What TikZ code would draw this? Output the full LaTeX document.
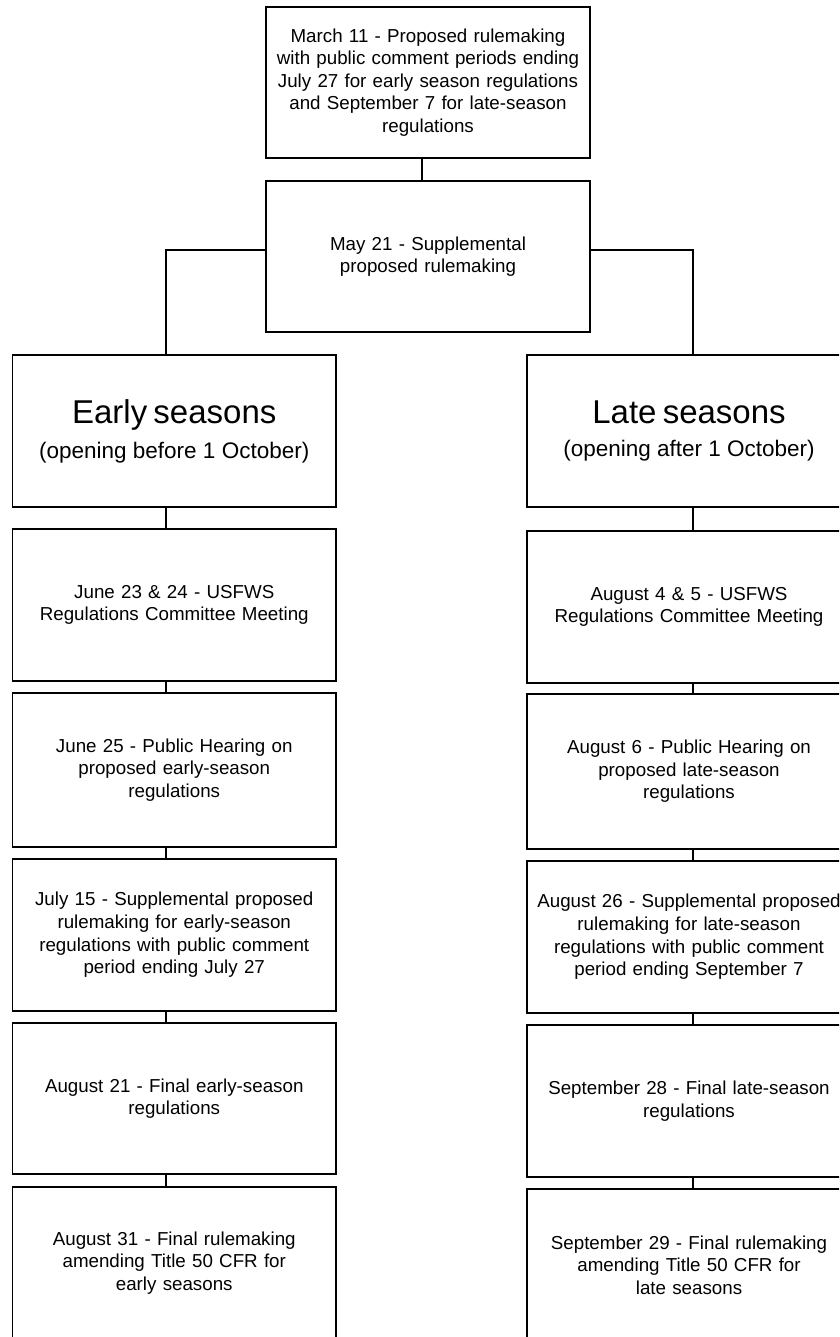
\documentclass[tikz,border=0pt]{standalone}
\usepackage{fontspec}
\setmainfont{Liberation Sans}
\begin{document}
\begin{tikzpicture}[x=1pt,y=-1pt,
  box/.style={draw, line width=1.8pt, rectangle, inner sep=0pt, outer sep=0pt,
    minimum width=323.5pt, minimum height=152pt, text width=318pt, align=center,
    font=\fontsize{18.75}{22.6}\selectfont},
  rbox/.style={box, minimum width=324pt},
  link/.style={line width=1.8pt}]
\useasboundingbox (0,0) rectangle (839,1337);
\begin{scope}
\clip (0,0) rectangle (839,1337);
% top boxes
\node[box, minimum width=324pt, minimum height=151pt] (top) at (428,82.5)
  {March 11 - Proposed rulemaking\\with public comment periods ending\\July 27 for early season regulations\\and September 7 for late-season\\regulations};
\node[box, minimum width=324pt, minimum height=151pt] (supp) at (428,256.5)
  {May 21 - Supplemental\\proposed rulemaking};
% left column
\node[box] (early) at (174.25,431)
  {{\fontsize{33}{38}\selectfont Early seasons}\\[11pt]{\fontsize{22.5}{27}\selectfont (opening before 1 October)}};
\node[box] (j23) at (174.25,605) {June 23 \& 24 - USFWS\\Regulations Committee Meeting};
\node[box, minimum height=154pt] (j25) at (174.25,770) {June 25 - Public Hearing on\\proposed early-season\\regulations};
\node[box] (j15) at (174.25,935) {July 15 - Supplemental proposed\\rulemaking for early-season\\regulations with public comment\\period ending July 27};
\node[box, minimum height=151pt] (a21) at (174.25,1098.5) {August 21 - Final early-season\\regulations};
\node[box] (a31) at (174.25,1263) {August 31 - Final rulemaking\\amending Title 50 CFR for\\early seasons};
% right column
\node[rbox] (late) at (689,431)
  {{\fontsize{33}{38}\selectfont Late seasons}\\[11pt]{\fontsize{22.5}{27}\selectfont (opening after 1 October)}};
\node[rbox] (a4) at (689,607) {August 4 \& 5 - USFWS\\Regulations Committee Meeting};
\node[rbox, minimum height=155pt] (a6) at (689,771.5) {August 6 - Public Hearing on\\proposed late-season\\regulations};
\node[rbox] (a26) at (689,937) {August 26 - Supplemental proposed\\rulemaking for late-season\\regulations with public comment\\period ending September 7};
\node[rbox] (s28) at (689,1101) {September 28 - Final late-season\\regulations};
\node[rbox] (s29) at (689,1265) {September 29 - Final rulemaking\\amending Title 50 CFR for\\late seasons};
% connector guides
\coordinate (cx) at (422,0);
\coordinate (lx) at (166,0);
\coordinate (rx) at (693,0);
\coordinate (by) at (0,250);
\draw[link] (top.south -| cx) -- (supp.north -| cx);
\draw[link] (supp.west |- by) -| (early.north -| lx);
\draw[link] (supp.east |- by) -| (late.north -| rx);
\draw[link] (early.south -| lx) -- (j23.north -| lx);
\draw[link] (j23.south -| lx) -- (j25.north -| lx);
\draw[link] (j25.south -| lx) -- (j15.north -| lx);
\draw[link] (j15.south -| lx) -- (a21.north -| lx);
\draw[link] (a21.south -| lx) -- (a31.north -| lx);
\draw[link] (late.south -| rx) -- (a4.north -| rx);
\draw[link] (a4.south -| rx) -- (a6.north -| rx);
\draw[link] (a6.south -| rx) -- (a26.north -| rx);
\draw[link] (a26.south -| rx) -- (s28.north -| rx);
\draw[link] (s28.south -| rx) -- (s29.north -| rx);
\end{scope}
\end{tikzpicture}
\end{document}
